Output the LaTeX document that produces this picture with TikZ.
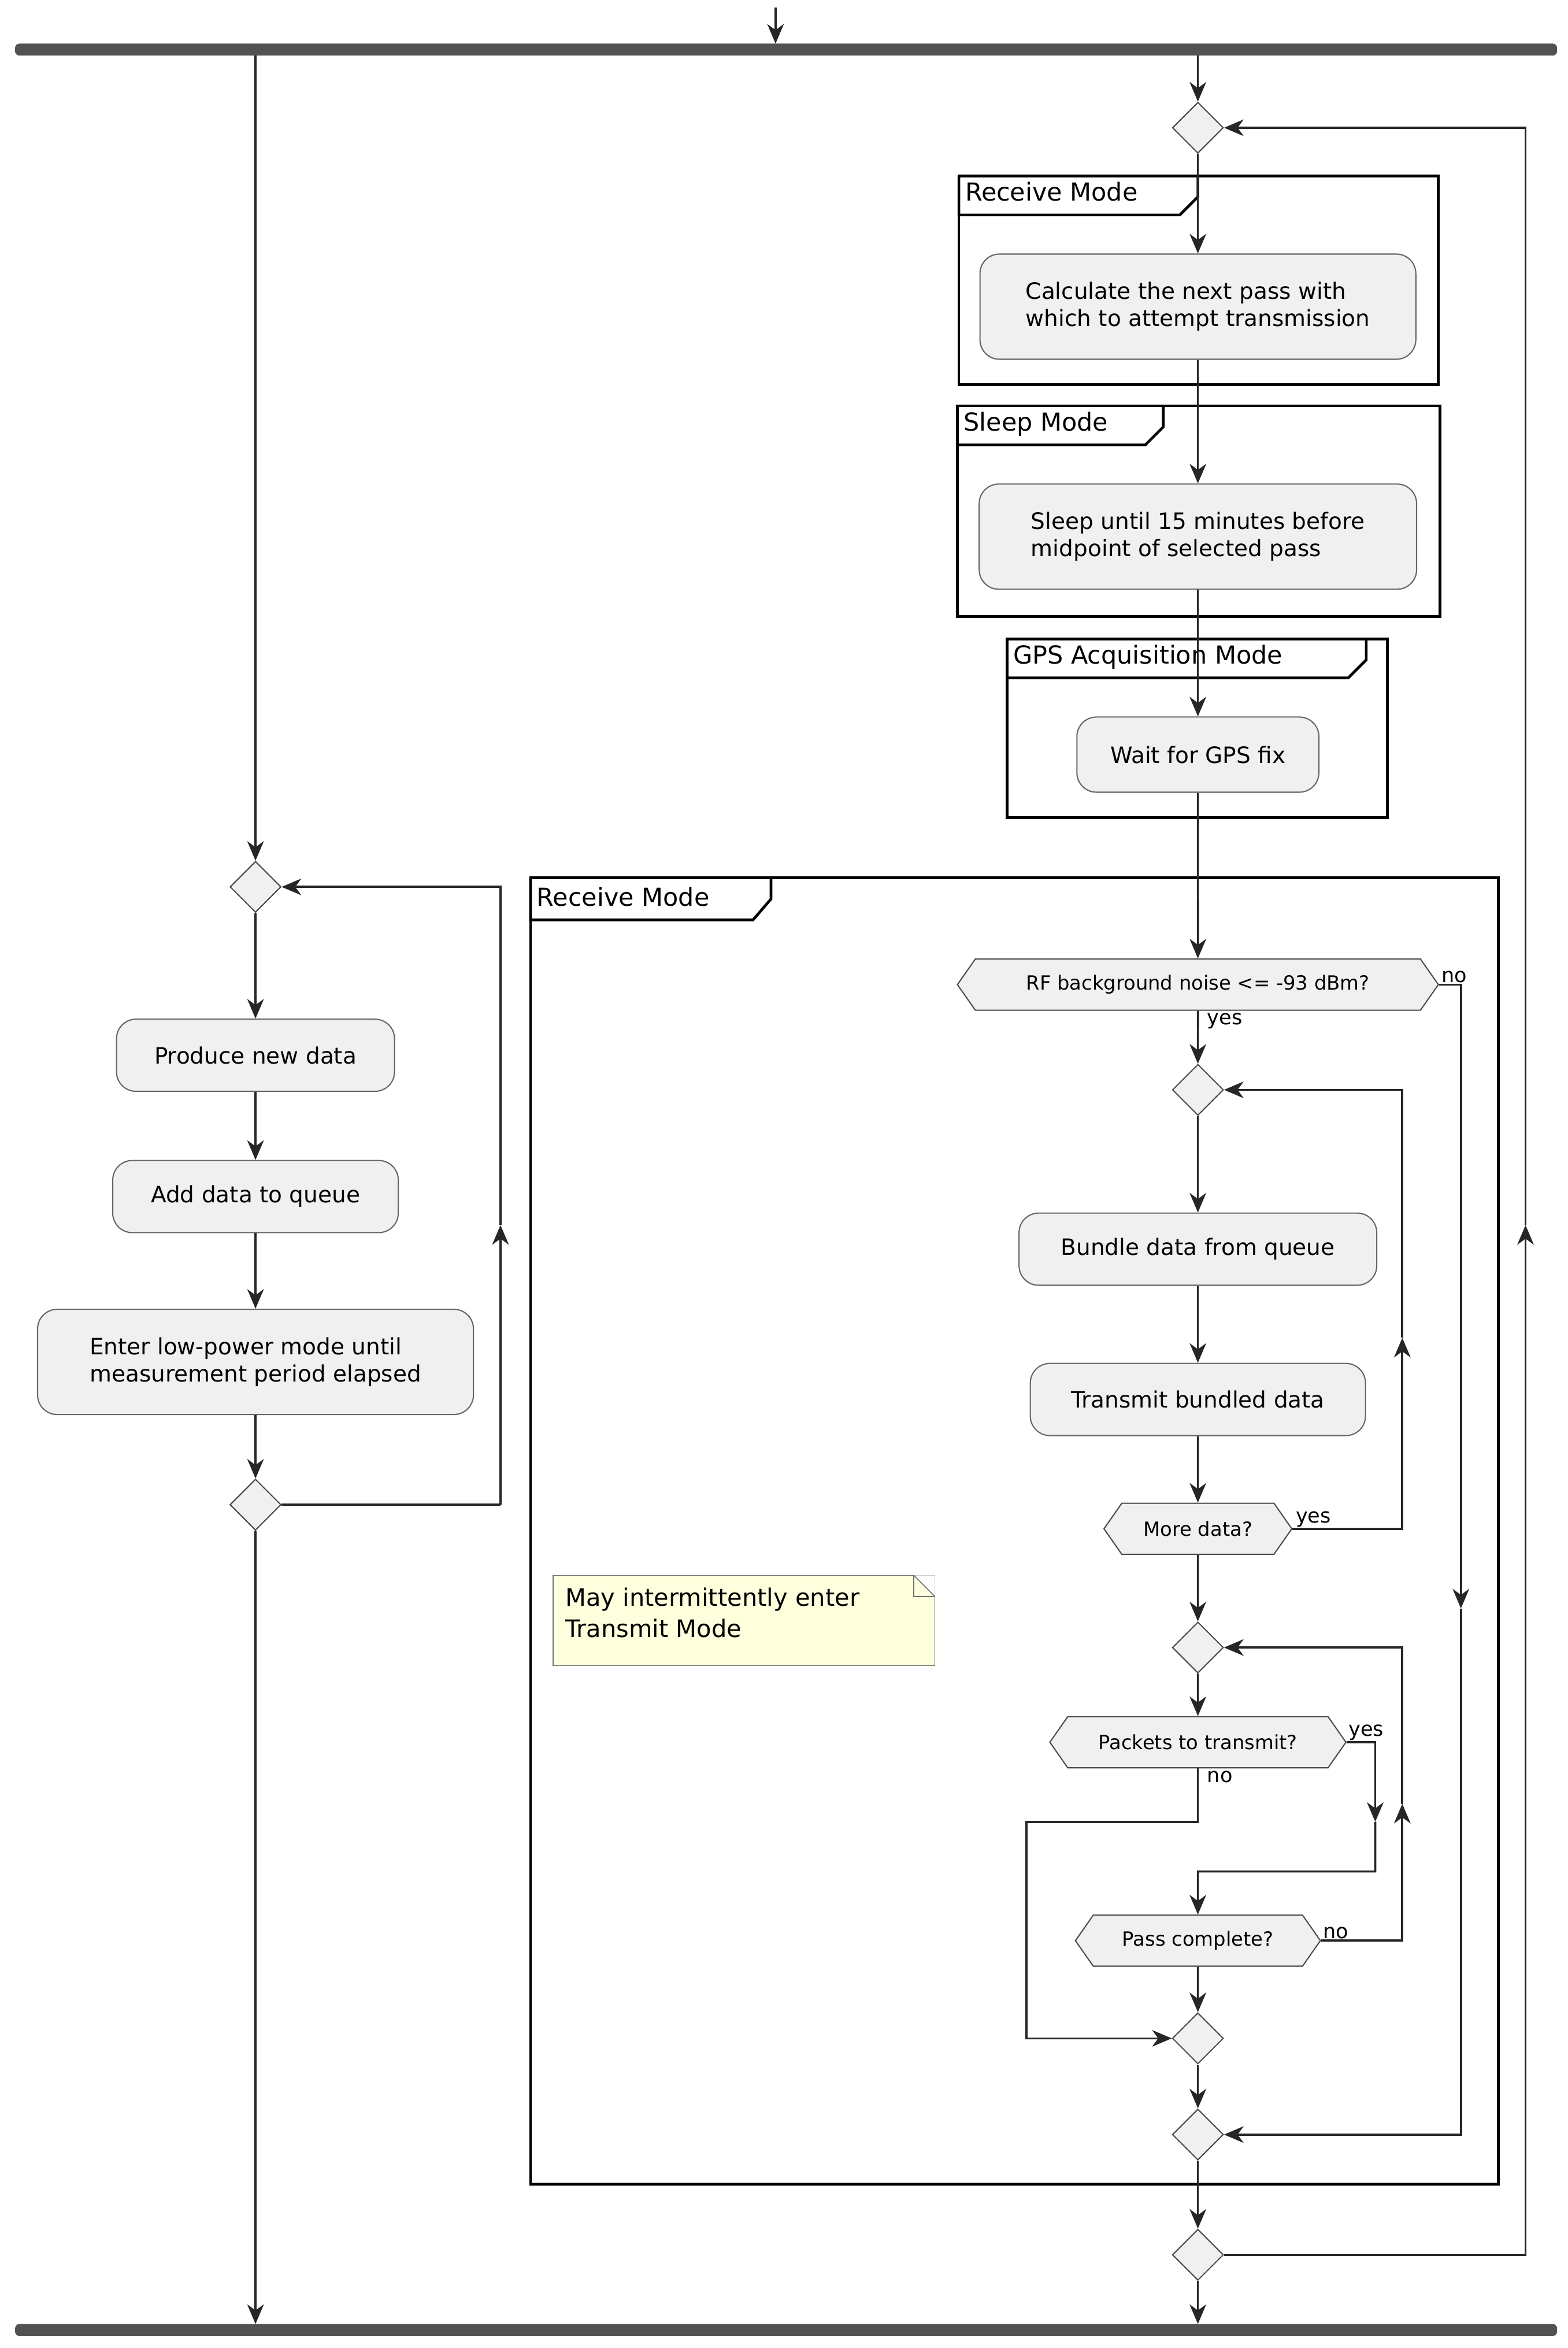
\documentclass[tikz,border=0pt]{standalone}
\usepackage{fontspec}
\setmainfont{DejaVu Sans}
\usetikzlibrary{shapes.geometric,shapes.symbols,arrows.meta}
\begin{document}
\begin{tikzpicture}[x=1pt,y=-1pt,
  ln/.style={line width=1.4pt,draw=black!85},
  arr/.style={ln,-{Stealth[length=13pt,width=11pt,inset=4pt]}},
  act/.style={draw=black!60,line width=0.8pt,fill=black!6,rounded corners=13pt,font=\fontsize{15}{18}\selectfont,align=left,inner xsep=12pt,minimum height=48pt},
  dia/.style={diamond,draw=black!70,line width=0.8pt,fill=black!6,minimum width=34pt,minimum height=34pt,inner sep=0pt},
  hex/.style={signal,signal to=east and west,signal pointer angle=110,draw=black!70,line width=0.8pt,fill=black!6,minimum height=34pt,inner sep=2pt,font=\fontsize{13}{15}\selectfont},
  frm/.style={draw=black,line width=1.8pt},
  ftxt/.style={font=\fontsize{16.5}{19}\selectfont,anchor=north west,inner sep=4pt},
  lbl/.style={font=\fontsize{13.5}{15}\selectfont,inner sep=1pt},
  bar/.style={fill=black!68,rounded corners=3pt}]
\useasboundingbox (0,0) rectangle (1043,1562);
% top
\coordinate (top) at (516,5);
\coordinate (topb) at (516,29);
\draw[arr] (top) -- (topb);
\fill[bar] (10,29) rectangle (1036,37);
\fill[bar] (10,1546) rectangle (1036,1554);
% left branch
\node[dia] (ld1) at (170,590) {};
\node[act,minimum width=185pt] (prod) at (170,702) {Produce new data};
\node[act,minimum width=190pt] (add) at (170,796) {Add data to queue};
\node[act,minimum width=290pt,minimum height=70pt] (low) at (170,906) {Enter low-power mode until\\measurement period elapsed};
\node[dia] (ld2) at (170,1001) {};
\coordinate (lb1) at (170,37);
\coordinate (lb2) at (170,1546);
\draw[arr] (lb1) -- (ld1);
\draw[arr] (ld1) -- (prod);
\draw[arr] (prod) -- (add);
\draw[arr] (add) -- (low);
\draw[arr] (low) -- (ld2);
\draw[arr] (ld2) -- (lb2);
\coordinate (lc1) at (333,1001); \coordinate (lc2) at (333,815); \coordinate (lc3) at (333,590);
\draw[ln] (ld2.east) -- (lc1);
\draw[arr] (lc1) -- (lc2);
\draw[arr] (lc2) -- (lc3) -- (ld1.east);
% right branch
\node[dia] (rd1) at (797,85) {};
\draw[frm] (638,117) rectangle (957,256);
\draw[frm] (638,117) -- (638,143) -- (785,143) -- (797,131) -- (797,117);
\node[ftxt] at (638,117) {Receive Mode};
\node[act,minimum width=290pt,minimum height=70pt] (calc) at (797,204) {Calculate the next pass with\\which to attempt transmission};
\draw[frm] (637,270) rectangle (958,410);
\draw[frm] (637,270) -- (637,296) -- (762,296) -- (774,284) -- (774,270);
\node[ftxt] at (637,270) {Sleep Mode};
\node[act,minimum width=291pt,minimum height=70pt] (sleep) at (797,357) {Sleep until 15 minutes before\\ midpoint of selected pass};
\draw[frm] (670,425) rectangle (923,544);
\draw[frm] (670,425) -- (670,451) -- (897,451) -- (909,439) -- (909,425);
\node[ftxt] at (670,425) {GPS Acquisition Mode};
\node[act,minimum width=161pt,minimum height=50pt] (gps) at (797,502) {Wait for GPS fix};
\draw[frm] (353,584) rectangle (997,1453);
\draw[frm] (353,584) -- (353,612) -- (501,612) -- (513,598) -- (513,584);
\node[ftxt] at (353,586) {Receive Mode};
\node[hex,minimum width=320pt] (rf) at (797,655) {RF background noise <= -93 dBm?};
\node[dia] (rd2) at (797,725) {};
\node[act,minimum width=238pt] (bund) at (797,831) {Bundle data from queue};
\node[act,minimum width=223pt] (tx) at (797,931) {Transmit bundled data};
\node[hex,minimum width=125pt] (more) at (797,1017) {More data?};
\node[dia] (rd3) at (797,1096) {};
\node[hex,minimum width=197pt] (pk) at (797,1159) {Packets to transmit?};
\node[hex,minimum width=163pt] (pc) at (797,1291) {Pass complete?};
\node[dia] (rd4) at (797,1356) {};
\node[dia] (rd5) at (797,1420) {};
\node[dia] (rd6) at (797,1500) {};
\node[draw=black!55,line width=0.6pt,fill={rgb,255:red,254;green,255;blue,221},minimum width=254pt,minimum height=60pt,
  font=\fontsize{16}{21}\selectfont,align=left,inner sep=0pt,
  path picture={}] (note) at (495,1078) {};
\fill[white] (608,1048) -- (622,1048) -- (622,1062) -- cycle;
\draw[black!55,line width=0.6pt] (608,1048) -- (608,1062) -- (622,1062);
\draw[black!55,line width=0.6pt] (608,1048) -- (622,1062);
\node[anchor=north west,font=\fontsize{16}{21}\selectfont,align=left,inner sep=0pt] at (376,1056) {May intermittently enter\\Transmit Mode};
\coordinate (rb1) at (797,37);
\coordinate (rb2) at (797,1546);
\draw[arr] (rb1) -- (rd1);
\draw[arr] (rd1) -- (calc);
\draw[arr] (calc) -- (sleep);
\draw[arr] (sleep) -- (gps);
\draw[arr] (gps) -- (rf);
\draw[arr] (rf) -- (rd2);
\node[lbl,anchor=north west] at (802,673) {yes};
\draw[arr] (rd2) -- (bund);
\draw[arr] (bund) -- (tx);
\draw[arr] (tx) -- (more);
\draw[arr] (more) -- (rd3);
\draw[arr] (rd3) -- (pk);
\draw[arr] (pc) -- (rd4);
\draw[arr] (rd4) -- (rd5);
\draw[arr] (rd5) -- (rd6);
\draw[arr] (rd6) -- (rb2);
% rf no
\coordinate (n1) at (972,655); \coordinate (n2) at (972,1070); \coordinate (n3) at (972,1420);
\draw[arr] (rf.east) -- (n1) -- (n2);
\draw[arr] (n2) -- (n3) -- (rd5.east);
\node[lbl,anchor=south west] at (958,655) {no};
% more yes
\coordinate (m1) at (933,1017); \coordinate (m2) at (933,890); \coordinate (m3) at (933,725);
\draw[arr] (more.east) -- (m1) -- (m2);
\draw[arr] (m2) -- (m3) -- (rd2.east);
\node[lbl,anchor=south west] at (861,1017) {yes};
% packets yes
\coordinate (y1) at (915,1159); \coordinate (y2) at (915,1212); \coordinate (y3) at (915,1245); \coordinate (y4) at (797,1245);
\draw[arr] (pk.east) -- (y1) -- (y2);
\draw[arr] (y2) -- (y3) -- (y4) -- (pc);
\node[lbl,anchor=south west] at (896,1159) {yes};
% packets no
\coordinate (p1) at (797,1212); \coordinate (p2) at (683,1212); \coordinate (p3) at (683,1356);
\draw[arr] (pk.south) -- (p1) -- (p2) -- (p3) -- (rd4.west);
\node[lbl,anchor=north west] at (802,1177) {no};
% pass complete no
\coordinate (c1) at (933,1291); \coordinate (c2) at (933,1200); \coordinate (c3) at (933,1096);
\draw[arr] (pc.east) -- (c1) -- (c2);
\draw[arr] (c2) -- (c3) -- (rd3.east);
\node[lbl,anchor=south west] at (879,1291) {no};
% outer loop
\coordinate (o1) at (1015,1500); \coordinate (o2) at (1015,815); \coordinate (o3) at (1015,85);
\draw[arr] (rd6.east) -- (o1) -- (o2);
\draw[arr] (o2) -- (o3) -- (rd1.east);
\end{tikzpicture}
\end{document}
